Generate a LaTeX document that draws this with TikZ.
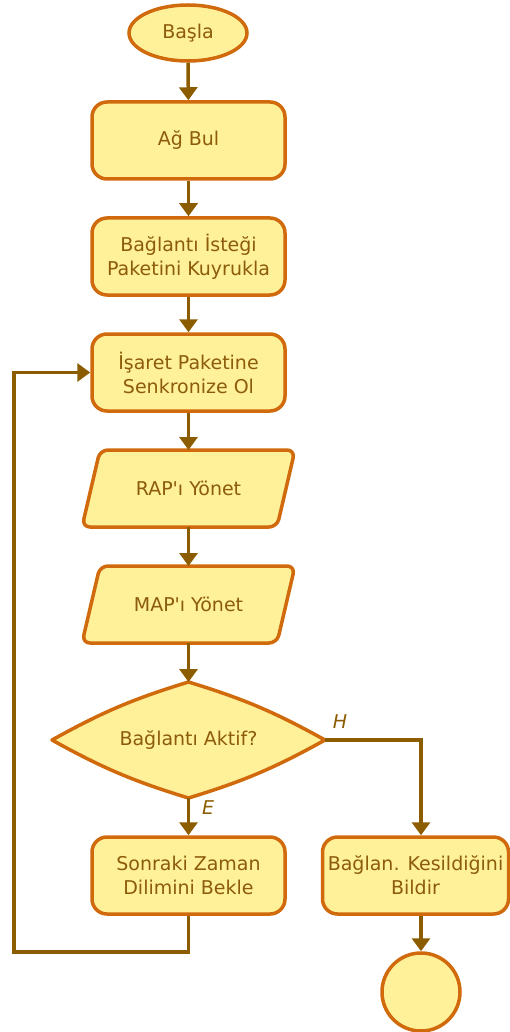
\documentclass[tikz,border=0pt]{standalone}
\usepackage{fontspec}
\setmainfont{DejaVu Sans}[Ligatures=TeXOff]
\usetikzlibrary{shapes.geometric,arrows.meta,backgrounds}
\definecolor{boxfill}{HTML}{FFF09A}
\definecolor{boxline}{HTML}{D06A0C}
\definecolor{flow}{HTML}{8C5C00}
\definecolor{label}{HTML}{8C5C0A}

\begin{document}
\begin{tikzpicture}[x=1pt,y=-1pt,
  txt/.style={text=label, font=\fontsize{19}{24}\selectfont, align=center},
  base/.style={txt, draw=boxline, line width=3.5pt, fill=boxfill},
  terminal/.style={base, ellipse, minimum width=118pt, minimum height=56pt, inner sep=0pt},
  process/.style={base, rectangle, rounded corners=15pt, minimum width=193pt, minimum height=77pt, inner sep=0pt},
  io/.style={txt, rectangle, minimum width=195pt, minimum height=77pt, inner sep=0pt, outer sep=0pt},
  decision/.style={txt, rectangle, minimum width=273pt, minimum height=116pt, inner sep=0pt, outer sep=0pt},
  outline/.style={draw=boxline, line width=3.5pt, fill=boxfill, line join=round},
  stop/.style={base, circle, minimum size=78pt, inner sep=0pt},
  flowline/.style={draw=flow, line width=3.5pt, -{Triangle[width=18pt,length=13pt]}},
  branch/.style={text=flow, font=\itshape\fontsize{19}{24}\selectfont}
]
\useasboundingbox (0,0) rectangle (509,1032);

% main column
\node[terminal] (start) at (188,33) {Başla};
\node[process] (find) at (188.5,140.5) {Ağ Bul};
\node[process] (queue) at (188.5,256.5) {Bağlantı İsteği\\Paketini Kuyrukla};
\node[process] (sync) at (188.5,372.5) {İşaret Paketine\\Senkronize Ol};
\node[io] (rap) at (188.5,488.5) {RAP'ı Yönet};
\node[io] (map) at (188.5,604.5) {MAP'ı Yönet};
\node[decision] (active) at (188.5,740) {Bağlantı Aktif?};
\node[process] (wait) at (188.5,875.5) {Sonraki Zaman\\Dilimini Bekle};

% right branch
\node[process, minimum width=186pt] (lost) at (415.5,875.5) {Bağlan. Kesildiğini\\Bildir};
\node[stop] (end) at (421,992) {};

% outlines of the input/output and decision shapes
\begin{scope}[on background layer]
  \foreach \n in {rap,map}{
    \draw[outline, rounded corners=8pt] (\n.north)
      -- ([xshift=9pt]\n.north east) -- ([xshift=-9pt]\n.south east)
      -- ([xshift=-9pt]\n.south west) -- ([xshift=9pt]\n.north west) -- cycle;
  }
  \draw[outline] (active.west) to[bend left=6] (active.north)
    to[bend left=6] (active.east) to[bend left=6] (active.south)
    to[bend left=6] (active.west) -- cycle;
\end{scope}

% connectors
\draw[flowline] (start) -- (find);
\draw[flowline] (find) -- (queue);
\draw[flowline] (queue) -- (sync);
\draw[flowline] (sync) -- (rap);
\draw[flowline] (rap) -- (map);
\draw[flowline] (map) -- (active.north);
\draw[flowline] (active.south) -- (wait);
\draw[flowline] (active.east) -| (end |- lost.north);
\draw[flowline] (end |- lost.south) -- (end);
\coordinate (loopcorner) at (14,952);
\draw[flowline] (wait.south) |- (loopcorner) |- (sync.west);

% branch labels
\node[branch] (yes) at (208,808) {E};
\node[branch] (no) at (340,722) {H};
\end{tikzpicture}
\end{document}
